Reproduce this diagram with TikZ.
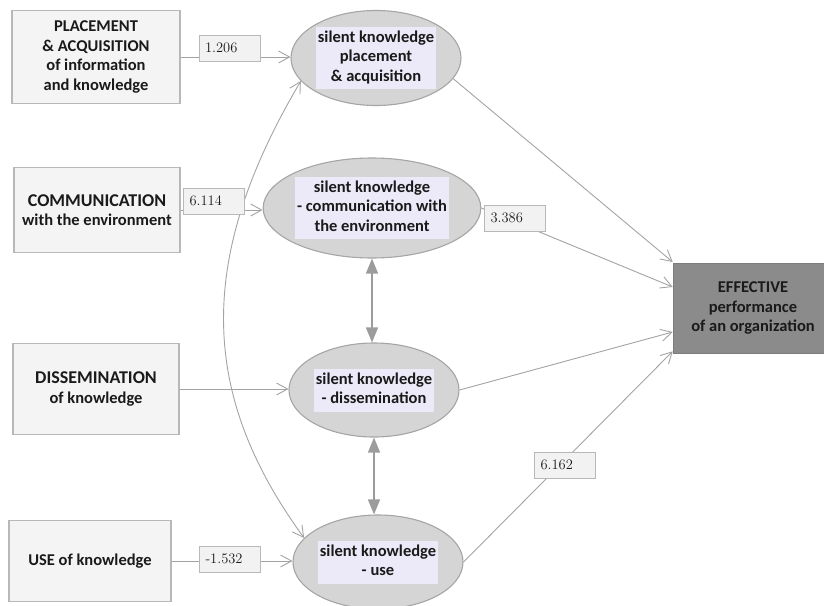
\documentclass[tikz,border=0pt]{standalone}
\usepackage{fontspec}
\newfontfamily\calfont{Carlito}
\usetikzlibrary{arrows.meta,shapes.geometric}

\definecolor{lnkgray}{HTML}{A3A3A3}
\definecolor{boxedge}{HTML}{B8B8B8}
\definecolor{boxfill}{HTML}{F4F4F4}
\definecolor{ellfill}{HTML}{D5D5D5}
\definecolor{elledge}{HTML}{A5A5A5}
\definecolor{hilite}{HTML}{ECEAF8}
\definecolor{effgray}{HTML}{8B8B8B}
\definecolor{txt}{HTML}{1A1A1A}
\definecolor{coeffill}{HTML}{F2F2F2}
\definecolor{dblgray}{HTML}{9C9C9C}

% highlighted text block inside the latent ellipses
\newcommand\hlblock[1]{{\setlength{\fboxsep}{2pt}\colorbox{hilite}{\begin{tabular}{@{}c@{}}#1\end{tabular}}}}

\begin{document}
\begin{tikzpicture}[x=1pt,y=-1pt,
  lnk/.style={draw=lnkgray, line width=0.9pt},
  arr/.style={lnk, -{Straight Barb[length=11pt,width=12pt]}},
  arrboth/.style={lnk, {Straight Barb[length=11pt,width=12pt]}-{Straight Barb[length=11pt,width=12pt]}},
  dbl/.style={draw=dblgray, line width=1.4pt, {Triangle[length=15pt,width=12pt]}-{Triangle[length=15pt,width=12pt]}},
  srcbox/.style={rectangle, draw=boxedge, fill=boxfill, line width=1.1pt, align=center, text=txt,
    font=\calfont\bfseries\fontsize{16.5}{19.5}\selectfont},
  latent/.style={ellipse, draw=elledge, fill=ellfill, line width=1.1pt, inner sep=0pt, text=txt,
    font=\calfont\bfseries\fontsize{16.5}{19.5}\selectfont},
  outbox/.style={rectangle, fill=effgray, draw=effgray!90!black, line width=0.6pt, align=center, text=txt,
    font=\calfont\bfseries\fontsize{16.5}{19.5}\selectfont},
  coef/.style={rectangle, draw=boxedge, fill=coeffill, line width=0.9pt, text=txt,
    font=\fontsize{14.5}{16}\selectfont, align=left, text width=49pt,
    inner xsep=6pt, inner ysep=2pt, text height=15pt, text depth=7pt}
]
\useasboundingbox (0,0) rectangle (824,605);

% indicator boxes
\node[srcbox, minimum width=168pt, minimum height=93pt] (pa) at (96,57)
  {PLACEMENT\\\& ACQUISITION\\of information\\and knowledge};
\node[srcbox, minimum width=166pt, minimum height=85pt] (cm) at (97,210)
  {{\fontsize{18}{21}\selectfont COMMUNICATION}\\with the environment};
\node[srcbox, minimum width=166pt, minimum height=91pt] (ds) at (96,389)
  {{\fontsize{18}{21}\selectfont DISSEMINATION}\\of knowledge};
\node[srcbox, minimum width=162pt, minimum height=81pt] (us) at (90,561)
  {USE of knowledge};

% latent variables
\node[latent, minimum width=163pt, minimum height=95pt] (e1) at (376,58)
  {\hlblock{silent knowledge\\placement\\\& acquisition}};
\node[latent, minimum width=172pt, minimum height=100pt] (e2) at (372,208)
  {\hlblock{silent knowledge\\- communication with\\the environment}};
\node[latent, minimum width=168pt, minimum height=94pt] (e3) at (374,390)
  {\hlblock{silent knowledge\\- dissemination}};
\node[latent, minimum width=162pt, minimum height=94pt] (e4) at (378,562)
  {\hlblock{silent knowledge\\- use}};

% outcome
\node[outbox, minimum width=160pt, minimum height=90pt] (eff) at (753,308)
  {EFFECTIVE\\performance\\of an organization};

% paths from indicators
\draw[arr] (pa.east) -- (pa.east -| e1.west);
\draw[arr] (cm.east) -- (cm.east -| e2.west);
\draw[arr] (ds.east) -- (ds.east -| e3.west);
\draw[arr] (us.east) -- (us.east -| e4.west);

% paths to the outcome
\draw[arr] (e1.-15) -- ([yshift=46pt]eff.west);
\draw[arr] (e2.east) -- ([yshift=21pt]eff.west);
\draw[arr] (e3.east) -- ([yshift=-24pt]eff.west);
\draw[arr] (e4.east) -- ([yshift=2pt]eff.south west);

% correlations
\draw[dbl] (e2.south) -- (e2.south |- e3.north);
\draw[dbl] (e3.south) -- (e3.south |- e4.north);
\draw[arrboth] (e4.162) .. controls (200,395) and (195,260) .. (e1.197);

% path coefficients
\node[coef] (c1) at (229.5,48) {1.206};
\node[coef] (c2) at (214,201.5) {6.114};
\node[coef] (c3) at (515,218.5) {3.386};
\node[coef] (c4) at (565,465) {6.162};
\node[coef] (c5) at (230,559.5) {-1.532};
\end{tikzpicture}
\end{document}
